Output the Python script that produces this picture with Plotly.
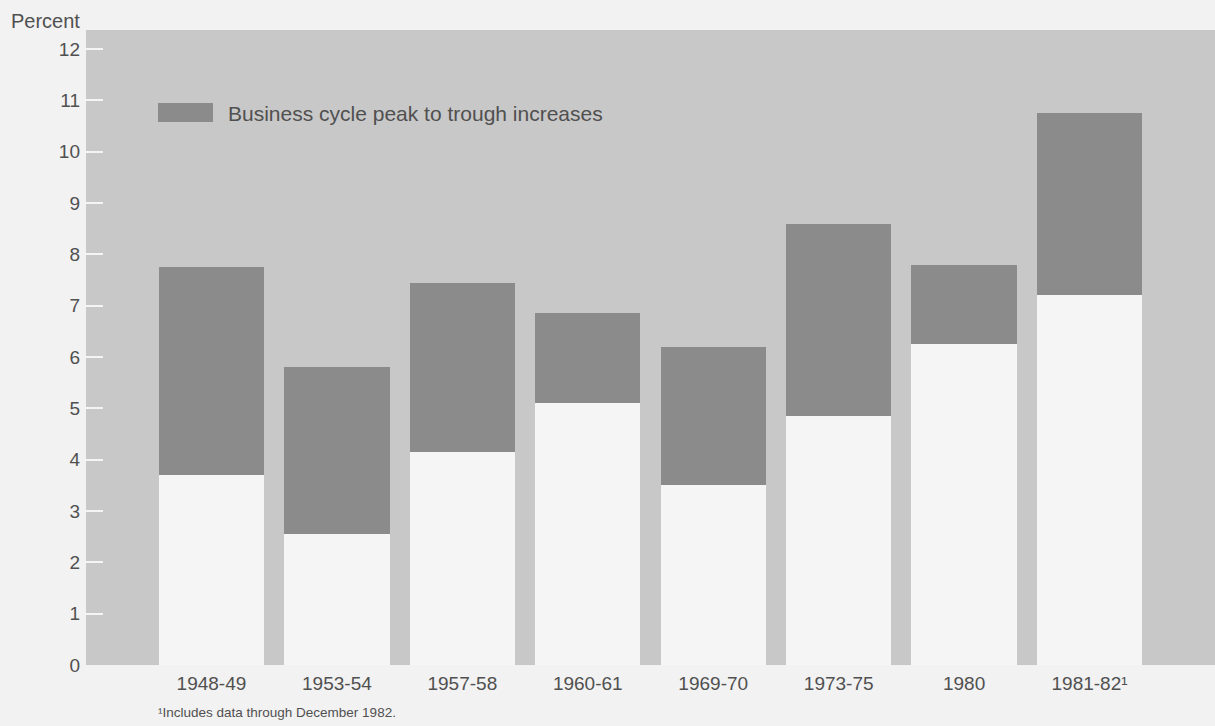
import plotly.graph_objects as go

# Unemployment rate at business-cycle peak and trough (percent)
cycles = ["1948-49", "1953-54", "1957-58", "1960-61", "1969-70", "1973-75", "1980", "1981-82¹"]
peak_rate = [3.7, 2.55, 4.15, 5.1, 3.5, 4.85, 6.25, 7.2]
trough_rate = [7.75, 5.8, 7.45, 6.85, 6.2, 8.6, 7.8, 10.75]
y_ticks = list(range(0, 13))

increase = [t - p for p, t in zip(peak_rate, trough_rate)]
xpos = list(range(len(cycles)))

PAGE = "#f2f2f2"
PANEL = "#c8c8c8"
DARK = "#8b8b8b"
LIGHT = "#f5f5f5"
TEXT = "#505050"
FONT = "Liberation Sans"

fig = go.Figure()
fig.add_trace(go.Bar(
    x=xpos, y=peak_rate, width=0.84,
    marker=dict(color=LIGHT, line=dict(width=0)),
    showlegend=False, hoverinfo="y",
))
fig.add_trace(go.Bar(
    x=xpos, y=increase, base=peak_rate, width=0.84,
    marker=dict(color=DARK, line=dict(width=0)),
    name="Business cycle peak to trough increases",
    showlegend=False,
))

# legend swatch and label
fig.add_shape(type="rect", xref="paper", yref="paper",
              x0=(158 - 86) / 1129, x1=(213 - 86) / 1129,
              y0=(665 - 122) / 635, y1=(665 - 103) / 635,
              fillcolor=DARK, line=dict(width=0), layer="above")
fig.add_annotation(xref="paper", yref="paper",
                   x=(226 - 86) / 1129, y=(665 - 113) / 635,
                   text="Business cycle peak to trough increases",
                   showarrow=False, xanchor="left", yanchor="middle",
                   font=dict(family=FONT, size=21, color=TEXT))

# axis title above the tick labels
fig.add_annotation(xref="paper", yref="paper", x=-77 / 1129, y=1.0,
                   text="Percent", showarrow=False, xanchor="left", yanchor="bottom",
                   yshift=-4, font=dict(family=FONT, size=20, color=TEXT))

# footnote
fig.add_annotation(xref="paper", yref="paper", x=(156 - 86) / 1129, y=-47 / 635,
                   text="¹Includes data through December 1982.",
                   showarrow=False, xanchor="left", yanchor="middle",
                   font=dict(family=FONT, size=13.5, color=TEXT))

fig.update_layout(
    width=1215, height=726,
    margin=dict(l=86, r=0, t=30, b=61, pad=0),
    paper_bgcolor=PAGE, plot_bgcolor=PANEL,
    barmode="overlay", bargap=0,
    font=dict(family=FONT, color=TEXT),
    xaxis=dict(
        range=[-1, 8], tickmode="array", tickvals=xpos, ticktext=cycles,
        showgrid=False, zeroline=False, showline=False, ticks="",
        tickfont=dict(family=FONT, size=19, color=TEXT),
        ticklabelstandoff=5, fixedrange=True,
    ),
    yaxis=dict(
        range=[0, 12.37], tickmode="array", tickvals=y_ticks,
        ticks="inside", ticklen=17, tickwidth=2, tickcolor="#f4f4f4",
        showgrid=False, zeroline=False, showline=False,
        tickfont=dict(family=FONT, size=19, color=TEXT),
        ticklabelstandoff=5, fixedrange=True,
    ),
)

fig.write_html("out.html")
